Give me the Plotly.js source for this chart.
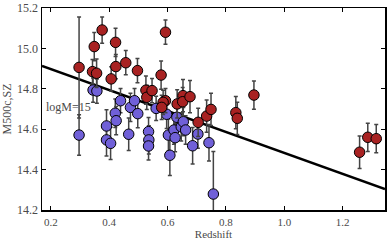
<!DOCTYPE html>
<html>
<head>
<meta charset="utf-8">
<script src="https://cdn.plot.ly/plotly-3.0.1.min.js"></script>
<style>html,body{margin:0;padding:0;background:#fff;}#chart{width:390px;height:243px;}</style>
</head>
<body>
<div id="chart"></div>
<script>
// Red (high-mass) clusters
const redZ = [0.297,0.349,0.376,0.343,0.357,0.422,0.423,0.407,0.457,0.497,0.593,0.578,0.526,0.529,0.547,0.593,0.585,0.580,0.633,0.653,0.652,0.677,0.705,0.734,0.749,0.834,0.839,0.896,1.258,1.286,1.315];
const redM = [14.906,15.009,15.091,14.885,14.877,15.030,14.910,14.849,14.929,14.890,15.080,14.868,14.793,14.758,14.791,14.741,14.733,14.708,14.725,14.766,14.736,14.761,14.634,14.665,14.698,14.682,14.654,14.769,14.486,14.560,14.553];
const redErr = [0.25,0.07,0.065,0.06,0.07,0.07,0.06,0.06,0.06,0.06,0.06,0.07,0.07,0.06,0.06,0.06,0.06,0.06,0.07,0.08,0.07,0.08,0.07,0.08,0.08,0.08,0.08,0.07,0.08,0.07,0.07];
// Blue (low-mass) clusters
const blueZ = [0.297,0.345,0.358,0.439,0.421,0.424,0.391,0.391,0.405,0.467,0.473,0.487,0.498,0.535,0.536,0.535,0.561,0.597,0.603,0.608,0.632,0.622,0.626,0.647,0.654,0.662,0.686,0.704,0.742,0.757];
const blueM = [14.571,14.794,14.789,14.741,14.679,14.642,14.616,14.547,14.530,14.575,14.708,14.741,14.677,14.588,14.547,14.517,14.703,14.674,14.571,14.471,14.659,14.596,14.558,14.612,14.637,14.596,14.518,14.576,14.533,14.279];
const blueErr = [0.10,0.06,0.06,0.06,0.07,0.07,0.08,0.08,0.08,0.08,0.07,0.06,0.07,0.07,0.07,0.07,0.06,0.07,0.08,0.10,0.07,0.07,0.07,0.07,0.07,0.07,0.09,0.07,0.09,0.21];
// Fit line endpoints
const lineZ = [0.17, 1.345];
const lineM = [14.913, 14.304];
// Tick labels
const xTicks = [0.2,0.4,0.6,0.8,1.0,1.2];
const xTickText = ['0.2','0.4','0.6','0.8','1.0','1.2'];
const yTicks = [14.2,14.4,14.6,14.8,15.0,15.2];
const yTickText = ['14.2','14.4','14.6','14.8','15.0','15.2'];

const serif = "Liberation Serif, Times New Roman, serif";
const txtColor = '#4a4a4a';
const errStyle = (arr) => ({type:'data', array:arr, visible:true, color:'#444', thickness:1.5, width:2});

const traces = [
  {x:lineZ, y:lineM, mode:'lines', line:{color:'#000', width:2.5}, hoverinfo:'skip'},
  {x:blueZ, y:blueM, mode:'markers', error_y:errStyle(blueErr),
   marker:{size:10.5, color:'#7060d8', line:{color:'#000', width:1}}},
  {x:redZ, y:redM, mode:'markers', error_y:errStyle(redErr),
   marker:{size:10.5, color:'#a82222', line:{color:'#000', width:1}}}
];

const layout = {
  width:390, height:243,
  margin:{l:42, r:5, t:8, b:33},
  showlegend:false,
  paper_bgcolor:'#fff', plot_bgcolor:'#fff',
  font:{family:serif, size:12, color:txtColor},
  xaxis:{range:[0.17,1.345], tickvals:xTicks, ticktext:xTickText, tickfont:{size:11},
    ticks:'inside', ticklen:4, tickcolor:'#000', showgrid:false, zeroline:false,
    showline:true, linecolor:'#000', linewidth:1.5, mirror:'ticks', ticklabelstandoff:1,
    title:{text:'Redshift', font:{family:serif, size:11, color:txtColor}, standoff:3}},
  yaxis:{range:[14.2,15.2], tickvals:yTicks, ticktext:yTickText, tickfont:{size:12},
    ticks:'inside', ticklen:4, tickcolor:'#000', showgrid:false, zeroline:false,
    showline:true, linecolor:'#000', linewidth:1.5, mirror:'ticks',
    title:{text:'M500c,SZ', font:{family:serif, size:12, color:txtColor}, standoff:3}},
  annotations:[{text:'logM=15', xref:'paper', yref:'y', x:0, y:14.71, xanchor:'left', yanchor:'middle',
    xshift:2, showarrow:false, font:{family:serif, size:12, color:txtColor}}]
};

Plotly.newPlot('chart', traces, layout, {staticPlot:true, displayModeBar:false});
</script>
</body>
</html>
